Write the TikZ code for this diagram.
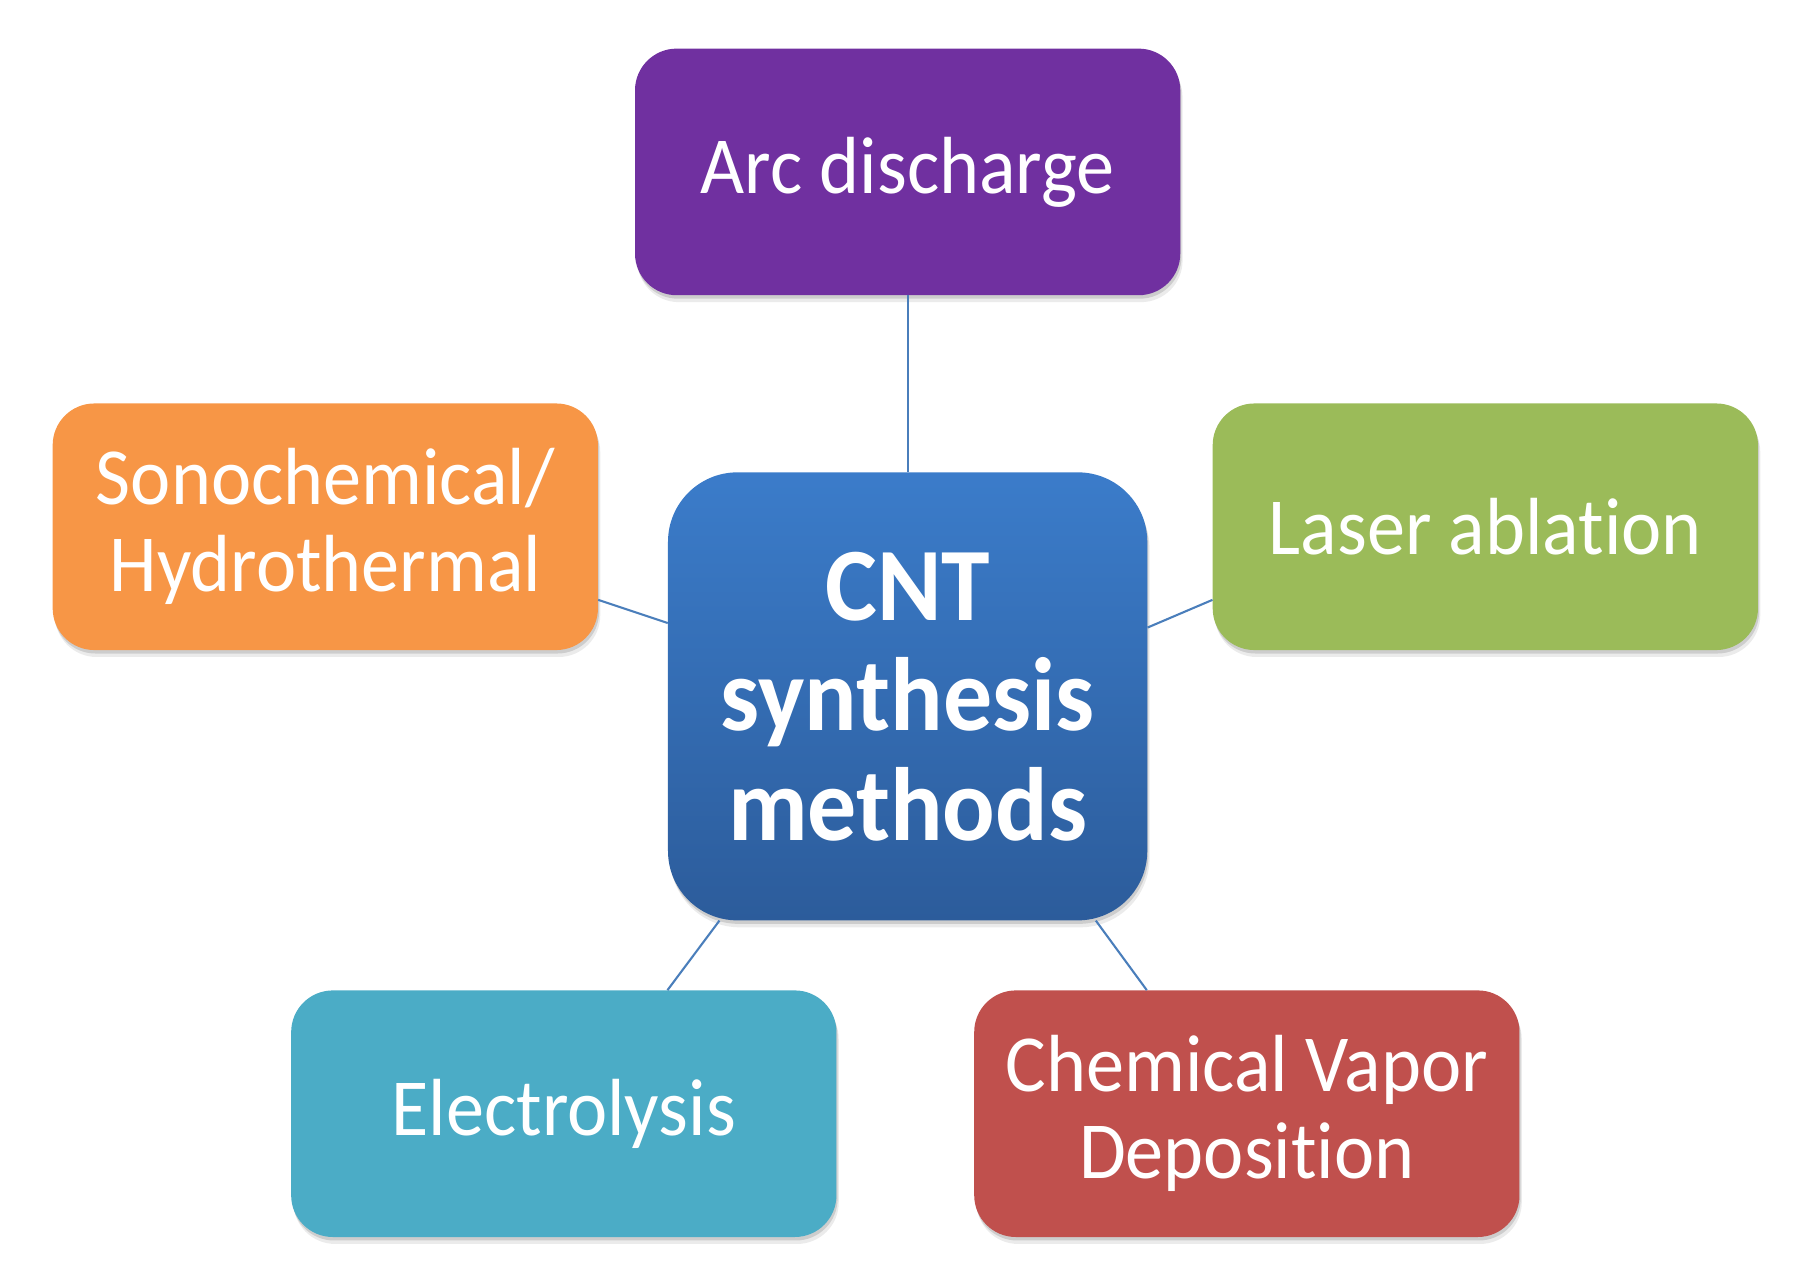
\documentclass[tikz,border=0pt]{standalone}
\usepackage{fontspec}
\setmainfont{Carlito}[Ligatures=NoCommon, FakeStretch=0.94]
\usetikzlibrary{shadows}
\definecolor{arcc}{HTML}{7030A0}
\definecolor{laserc}{HTML}{9BBB59}
\definecolor{sonoc}{HTML}{F79646}
\definecolor{electc}{HTML}{4BACC6}
\definecolor{cvdc}{HTML}{C0504D}
\definecolor{ctop}{HTML}{3B7CCA}
\definecolor{cbot}{HTML}{2C5C9B}
\definecolor{linkc}{HTML}{4A7EBB}
\begin{document}
\begin{tikzpicture}[x=1pt,y=-1pt,
  softshadow/.style={
    drop shadow={shadow xshift=1pt, shadow yshift=-3pt, fill=black, opacity=0.13},
    drop shadow={shadow xshift=2pt, shadow yshift=-6pt, fill=black, opacity=0.08}},
  methodbox/.style={rounded corners=36pt, text=white, align=center,
    inner sep=0pt, minimum width=471pt, minimum height=213pt,
    font=\fontsize{70}{75}\selectfont, softshadow},
  centerbox/.style={rounded corners=60pt, text=white, align=center,
    inner sep=0pt, minimum width=414pt, minimum height=387pt,
    top color=ctop, bottom color=cbot,
    font=\fontsize{90}{95}\selectfont\bfseries, softshadow},
  link/.style={draw=linkc, line width=1.8pt}]
\useasboundingbox (0,0) rectangle (1560,1110);
\node[centerbox] (ctr) at (784,601.5) {CNT\\synthesis\\methods};
\node[methodbox, fill=arcc] (arc) at (784,148.5) {Arc discharge};
\node[methodbox, fill=laserc] (laser) at (1283,455) {Laser ablation};
\node[methodbox, fill=sonoc] (sono) at (281,455) {Sonochemical/\\Hydrothermal};
\node[methodbox, fill=electc] (elec) at (487,962) {Electrolysis};
\node[methodbox, fill=cvdc] (cvd) at (1077,962) {Chemical Vapor\\Deposition};
\draw[link] (arc.south) -- (ctr.north);
\draw[link] (sono.-15.6) -- (ctr.163.5);
\draw[link] (laser.195.7) -- (ctr.16.5);
\draw[link] (elec.50.2) -- (ctr.230.9);
\draw[link] (cvd.129.3) -- (ctr.-50.8);
\end{tikzpicture}
\end{document}
